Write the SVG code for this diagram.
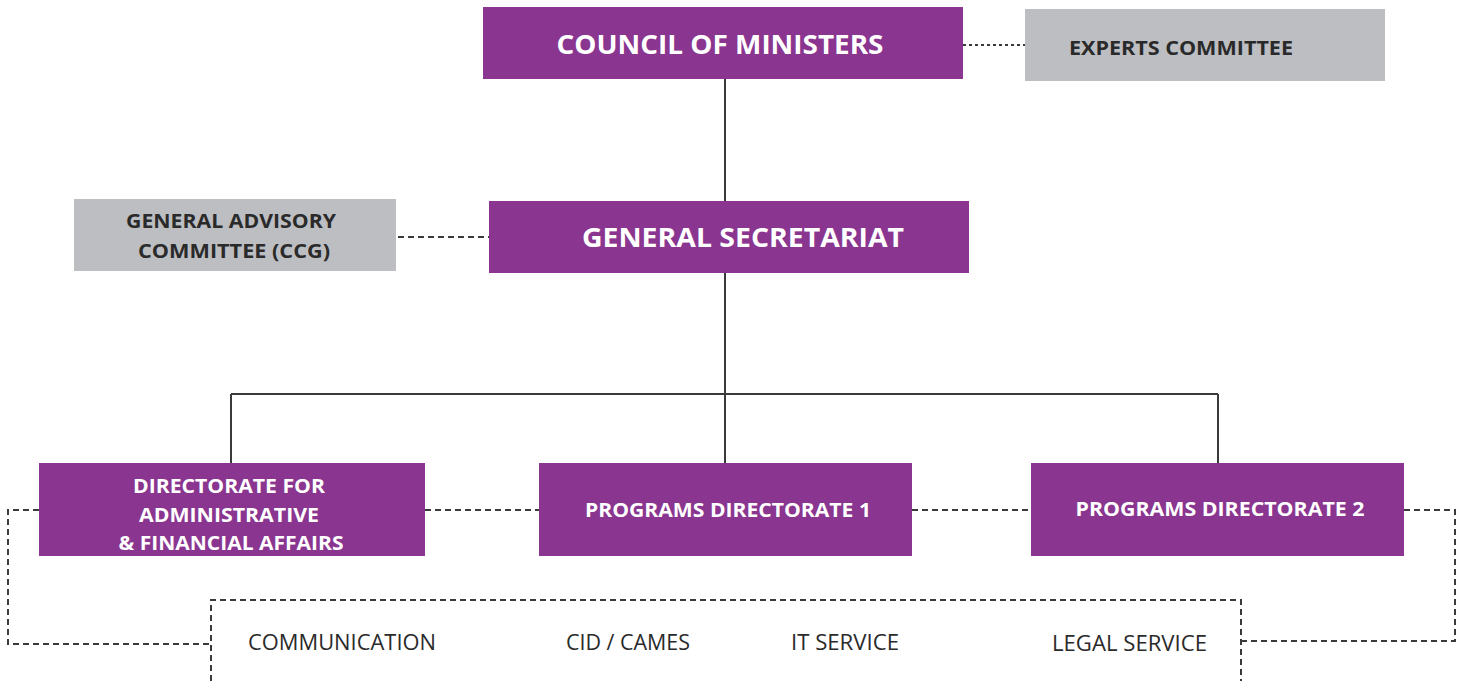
<svg xmlns="http://www.w3.org/2000/svg" width="1466" height="681" viewBox="0 0 1466 681">
<style>
.p{fill:#8A3590}
.g{fill:#BDBEC2}
.tw{fill:#fff;font-family:"Open Sans","Liberation Sans",sans-serif;font-weight:bold;text-anchor:middle}
.tg{fill:#2a2a2a;font-family:"Open Sans","Liberation Sans",sans-serif;font-weight:bold;text-anchor:middle}
.tr{fill:#2a2a2a;font-family:"Open Sans","Liberation Sans",sans-serif;font-size:21px}
.s{stroke:#3a3a3a;stroke-width:2;fill:none}
.d{stroke:#3a3a3a;stroke-width:2;fill:none;stroke-dasharray:6 4}
.dt{stroke:#3a3a3a;stroke-width:2;fill:none;stroke-dasharray:3 3}
</style>
<g id="connectors">
<path class="s" d="M725 79V201M725 273V394M231 394H1218M231 394V463M725 394V463M1218 394V463"/>
<path class="dt" d="M963 45H1025"/>
<path class="d" d="M398 237H489"/>
<path class="d" d="M425 510H539M912 510H1031"/>
<path class="d" d="M39 510H8V644H211"/>
<path class="d" d="M1404 510H1455V641H1241"/>
<path class="d" d="M211 681V600H1241V681"/>
</g>
<g id="council"><rect class="p" x="483" y="7" width="480" height="72"/><text class="tw" x="720" y="54" font-size="27" textLength="327" lengthAdjust="spacingAndGlyphs">COUNCIL OF MINISTERS</text></g>
<g id="experts"><rect class="g" x="1025" y="9" width="360" height="72"/><text class="tg" x="1181" y="55" font-size="19" textLength="224" lengthAdjust="spacingAndGlyphs">EXPERTS COMMITTEE</text></g>
<g id="secretariat"><rect class="p" x="489" y="201" width="480" height="72"/><text class="tw" x="743" y="247" font-size="27" textLength="322" lengthAdjust="spacingAndGlyphs">GENERAL SECRETARIAT</text></g>
<g id="ccg"><rect class="g" x="74" y="199" width="322" height="72"/><text class="tg" x="231" y="228" font-size="19" textLength="210" lengthAdjust="spacingAndGlyphs">GENERAL ADVISORY</text><text class="tg" x="234" y="258" font-size="19" textLength="192" lengthAdjust="spacingAndGlyphs">COMMITTEE (CCG)</text></g>
<g id="dir-admin"><rect class="p" x="39" y="463" width="386" height="93"/><text class="tw" x="229" y="493" font-size="19" textLength="192" lengthAdjust="spacingAndGlyphs">DIRECTORATE FOR</text><text class="tw" x="229" y="522" font-size="19" textLength="180" lengthAdjust="spacingAndGlyphs">ADMINISTRATIVE</text><text class="tw" x="231" y="550" font-size="19" textLength="225" lengthAdjust="spacingAndGlyphs">&amp; FINANCIAL AFFAIRS</text></g>
<g id="pd1"><rect class="p" x="539" y="463" width="373" height="93"/><text class="tw" x="728" y="517" font-size="19" textLength="286" lengthAdjust="spacingAndGlyphs">PROGRAMS DIRECTORATE 1</text></g>
<g id="pd2"><rect class="p" x="1031" y="463" width="373" height="93"/><text class="tw" x="1220" y="516" font-size="19" textLength="289" lengthAdjust="spacingAndGlyphs">PROGRAMS DIRECTORATE 2</text></g>
<g id="services">
<text class="tr" x="248" y="650" textLength="188" lengthAdjust="spacingAndGlyphs">COMMUNICATION</text>
<text class="tr" x="566" y="650" textLength="124" lengthAdjust="spacingAndGlyphs">CID / CAMES</text>
<text class="tr" x="791" y="650" textLength="108" lengthAdjust="spacingAndGlyphs">IT SERVICE</text>
<text class="tr" x="1052" y="651" textLength="155" lengthAdjust="spacingAndGlyphs">LEGAL SERVICE</text>
</g>
</svg>
